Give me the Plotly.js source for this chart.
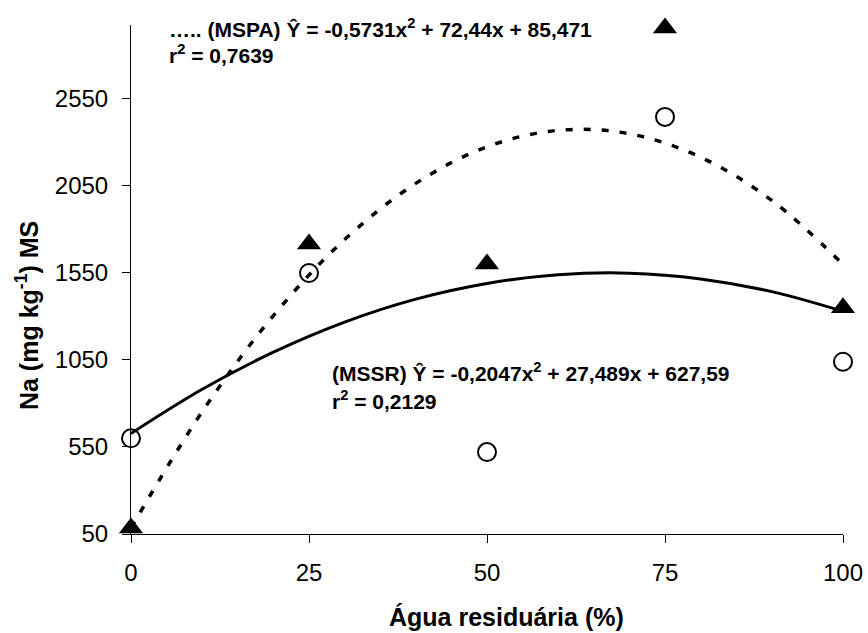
<!DOCTYPE html>
<html>
<head>
<meta charset="utf-8">
<script src="https://cdn.plot.ly/plotly-3.0.1.min.js"></script>
<style>
  html, body { margin: 0; padding: 0; background: #ffffff; }
  #chart { width: 868px; height: 633px; }
</style>
</head>
<body>
<div id="chart"></div>
<script>
const doses = [0, 25, 50, 75, 100];
const mspaObserved = [85, 1717, 1602, 2958, 1350];   // filled triangles
const mssrObserved = [600, 1550, 521, 2447, 1040];   // open circles

// Fitted curves as drawn
const curveX = [0, 10, 20, 30, 40, 50, 60, 70, 80, 90, 100];
const mspaCurve = [85, 753, 1305, 1742, 2065, 2275, 2370, 2350, 2215, 1967, 1600];
const mssrCurve = [628, 882, 1095, 1268, 1400, 1490, 1540, 1549, 1516, 1443, 1330];

// Axis ticks
const xTicks = [0, 25, 50, 75, 100];
const yTicks = [50, 550, 1050, 1550, 2050, 2550];

// Texts
const mspaEq = "….. (MSPA) Ŷ = -0,5731x<sup>2</sup> + 72,44x + 85,471";
const mspaR2 = "r<sup>2</sup> = 0,7639";
const mssrEq = "(MSSR) Ŷ = -0,2047x<sup>2</sup> + 27,489x + 627,59";
const mssrR2 = "r<sup>2</sup> = 0,2129";
const xTitle = "Água residuária (%)";
const yTitle = "Na (mg kg<sup>-1</sup>) MS";

const FONT = "Liberation Sans, Arial, sans-serif";

const traces = [
  {
    x: curveX, y: mspaCurve, type: "scatter", mode: "lines", name: "MSPA ajuste",
    line: { color: "#000000", width: 3.5, dash: "7px,11px", shape: "spline" },
    hoverinfo: "skip", showlegend: false
  },
  {
    x: curveX, y: mssrCurve, type: "scatter", mode: "lines", name: "MSSR ajuste",
    line: { color: "#000000", width: 3, shape: "spline" },
    hoverinfo: "skip", showlegend: false
  },
  {
    x: doses, y: mspaObserved, type: "scatter", mode: "markers", name: "MSPA",
    marker: { symbol: "triangle-up", size: 21, color: "#000000" },
    cliponaxis: false, showlegend: false
  },
  {
    x: doses, y: mssrObserved, type: "scatter", mode: "markers", name: "MSSR",
    marker: { symbol: "circle-open", size: 18, color: "#000000", line: { width: 2, color: "#000000" } },
    cliponaxis: false, showlegend: false
  }
];

function ann(text, x, y, opts) {
  return Object.assign({
    text: text, x: x, y: y, xref: "paper", yref: "paper",
    xanchor: "left", yanchor: "middle", showarrow: false,
    font: { family: FONT, size: 21, color: "#000000", weight: "bold" }
  }, opts || {});
}

const layout = {
  width: 868, height: 633,
  margin: { l: 131, r: 25, t: 25, b: 99, pad: 0 },
  paper_bgcolor: "#ffffff", plot_bgcolor: "#ffffff",
  showlegend: false,
  font: { family: FONT, color: "#000000" },
  xaxis: {
    range: [0, 100], tickvals: xTicks, ticktext: xTicks.map(String),
    showgrid: false, zeroline: false, showline: true, linecolor: "#000000", linewidth: 1,
    ticks: "outside", ticklen: 8, tickwidth: 1, tickcolor: "#000000",
    ticklabelstandoff: 9,
    tickfont: { family: FONT, size: 24, color: "#000000" }
  },
  yaxis: {
    range: [50, 2975], tickvals: yTicks, ticktext: yTicks.map(String),
    showgrid: false, zeroline: false, showline: true, linecolor: "#000000", linewidth: 1,
    ticks: "outside", ticklen: 8, tickwidth: 1, tickcolor: "#000000",
    ticklabelstandoff: 9,
    tickfont: { family: FONT, size: 24, color: "#000000" }
  },
  annotations: [
    ann(mspaEq, 0.0506, 0.9941),
    ann(mspaR2, 0.0506, 0.9430),
    ann(mssrEq, 0.2795, 0.3183),
    ann(mssrR2, 0.2795, 0.2633),
    ann(xTitle, 0.5267, -0.163, { xanchor: "center", font: { family: FONT, size: 25, color: "#000000", weight: "bold" } }),
    ann(yTitle, -0.146, 0.4283, { xanchor: "center", textangle: -90, font: { family: FONT, size: 25, color: "#000000", weight: "bold" } })
  ]
};

Plotly.newPlot("chart", traces, layout, { displayModeBar: false, staticPlot: true });
</script>
</body>
</html>
